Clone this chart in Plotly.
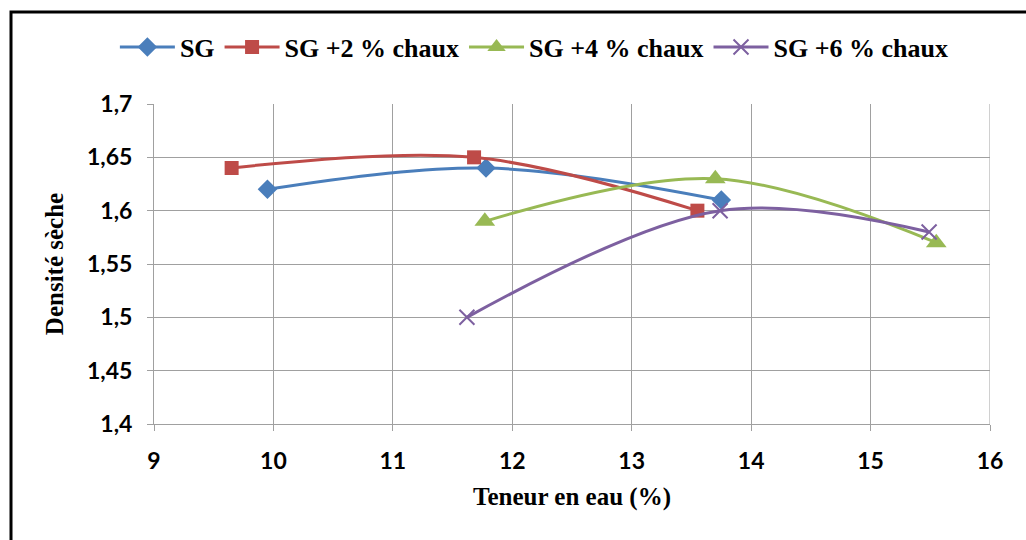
import plotly.graph_objects as go

# Teneur en eau (%) / densité sèche for each lime dosage
sg_x = [9.95, 11.78, 13.75]
sg_y = [1.62, 1.64, 1.61]
sg2_x = [9.65, 11.68, 13.55]
sg2_y = [1.64, 1.65, 1.60]
sg4_x = [11.77, 13.70, 15.55]
sg4_y = [1.59, 1.63, 1.57]
sg6_x = [11.62, 13.74, 15.49]
sg6_y = [1.50, 1.60, 1.58]

series_names = ["SG", "SG +2 % chaux", "SG +4 % chaux", "SG +6 % chaux"]
colors = ["#4A7EBB", "#BE4B48", "#98B954", "#7D60A0"]
symbols = ["diamond", "square", "triangle-up", "x-thin"]
marker_sizes = [15, 14, 18, 15]

y_ticks = [1.4, 1.45, 1.5, 1.55, 1.6, 1.65, 1.7]
y_ticktext = ["1,4", "1,45", "1,5", "1,55", "1,6", "1,65", "1,7"]
x_ticks = [9, 10, 11, 12, 13, 14, 15, 16]

fig = go.Figure()
for xs, ys, name, col, sym, sz in zip(
    [sg_x, sg2_x, sg4_x, sg6_x],
    [sg_y, sg2_y, sg4_y, sg6_y],
    series_names, colors, symbols, marker_sizes,
):
    fig.add_trace(go.Scatter(
        x=xs, y=ys, name=name, mode="lines+markers",
        line=dict(color=col, width=3, shape="spline", smoothing=1.0),
        marker=dict(symbol=sym, size=sz, color=col,
                    line=dict(color=col, width=2 if sym == "x-thin" else 0)),
    ))

axis_font = dict(family="Lato", size=23, color="black", weight="bold")
title_font = dict(family="Liberation Serif", size=25, color="black", weight="bold")
fig.update_layout(
    width=1026, height=540,
    margin=dict(l=154, r=36, t=104, b=116, autoexpand=False),
    paper_bgcolor="white", plot_bgcolor="white",
    showlegend=True,
    legend=dict(orientation="h", x=0.455, xanchor="center", y=1.178, yanchor="middle",
                bgcolor="rgba(0,0,0,0)",
                font=dict(family="Liberation Serif", size=26, color="black", weight="bold"),
                itemwidth=55),
    xaxis=dict(range=[9, 16], tickvals=x_ticks, showgrid=True, gridcolor="#A0A0A0", gridwidth=1,
               showline=True, linecolor="#A0A0A0", linewidth=1, mirror=False,
               ticks="outside", ticklen=6, tickcolor="#A0A0A0", ticklabelstandoff=10,
               tickfont=axis_font, zeroline=False,
               title=dict(text="Teneur en eau (%)", standoff=14, font=title_font)),
    yaxis=dict(range=[1.4, 1.7], tickvals=y_ticks, ticktext=y_ticktext, showgrid=True,
               gridcolor="#A0A0A0", gridwidth=1,
               showline=True, linecolor="#A0A0A0", linewidth=1,
               ticks="outside", ticklen=6, tickcolor="#A0A0A0", ticklabelstandoff=10,
               tickfont=axis_font, zeroline=False,
               title=dict(text="Densité sèche", standoff=16, font=title_font)),
)

# right-hand frame line of the plot area
fig.add_shape(type="line", xref="x", yref="y", x0=16, x1=16, y0=1.4, y1=1.7,
              line=dict(color="#A0A0A0", width=1))
# outer chart border
fig.add_shape(type="rect", xref="paper", yref="paper",
              x0=(11 - 154) / 836, x1=(1040 - 154) / 836,
              y0=(424 - 560) / 320, y1=(424 - 12) / 320,
              line=dict(color="black", width=3), fillcolor="rgba(0,0,0,0)", layer="below")

fig.write_html("out.html")
